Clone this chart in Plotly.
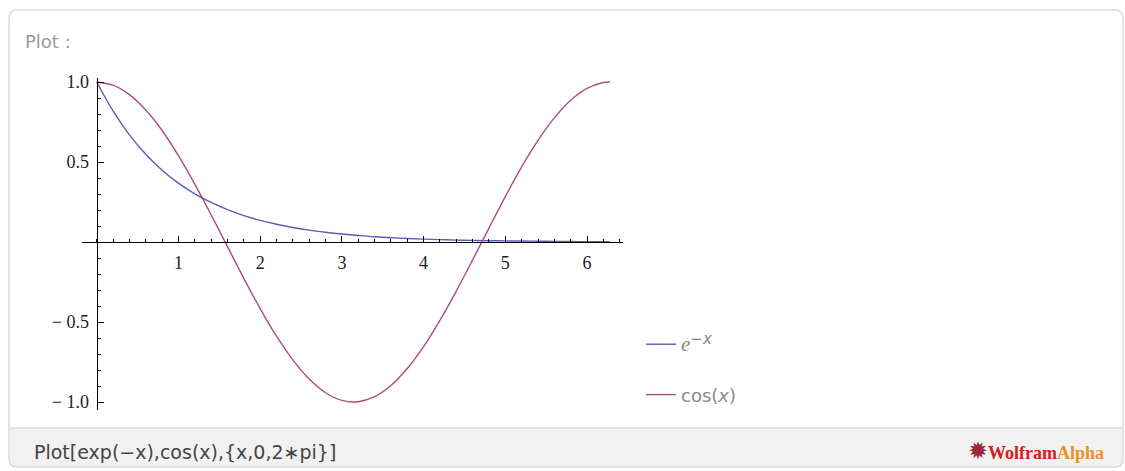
import plotly.graph_objects as go

# values
x_vals = [0.0, 0.2, 0.4, 0.6, 0.8, 1.0, 1.2, 1.4, 1.6, 1.8, 2.0, 2.2, 2.4, 2.6, 2.8, 3.0,
          3.2, 3.4, 3.6, 3.8, 4.0, 4.2, 4.4, 4.6, 4.8, 5.0, 5.2, 5.4, 5.6, 5.8, 6.0, 6.2, 6.28]
exp_vals = [1.0, 0.819, 0.670, 0.549, 0.449, 0.368, 0.301, 0.247, 0.202, 0.165, 0.135,
            0.111, 0.091, 0.074, 0.061, 0.050, 0.041, 0.033, 0.027, 0.022, 0.018, 0.015,
            0.012, 0.010, 0.008, 0.007, 0.006, 0.005, 0.004, 0.003, 0.002, 0.002, 0.002]
cos_vals = [1.0, 0.980, 0.921, 0.825, 0.697, 0.540, 0.362, 0.170, -0.029, -0.227, -0.416,
            -0.589, -0.737, -0.857, -0.942, -0.990, -0.998, -0.967, -0.897, -0.791, -0.654,
            -0.490, -0.307, -0.112, 0.087, 0.284, 0.469, 0.635, 0.776, 0.886, 0.960, 0.997, 1.0]

x_ticks = [1, 2, 3, 4, 5, 6]
y_ticks = [-1.0, -0.5, 0.5, 1.0]
y_ticktext = ["\u2212 1.0", "\u2212 0.5", "0.5", "1.0"]
series_names = ["<span style='font-family:Liberation Serif;font-size:21px'><i>e</i></span>"
                "<sup><span style='font-size:15px'>\u2212<i>x</i></span></sup>",
                "cos(<i>x</i>)"]

W, H = 1125, 471
L, R, T, B = 82, 623, 78, 410   # plot area in pixels
X_RANGE = [-0.18, 6.44]
Y_RANGE = [-1.05, 1.025]


def px(X):
    return (X - L) / (R - L)


def py(Y):
    return (B - Y) / (B - T)


def rounded_path(x0, y0, x1, y1, r, top=True, bottom=True):
    # rounded rect in paper coords, given pixel corners
    rx = r / (R - L)
    ry = r / (B - T)
    a, b, c, d = px(x0), py(y1), px(x1), py(y0)  # left, bottom, right, top
    p = []
    if top:
        p.append(f"M{a},{d - ry} Q{a},{d} {a + rx},{d} L{c - rx},{d} Q{c},{d} {c},{d - ry}")
    else:
        p.append(f"M{a},{d} L{c},{d}")
    if bottom:
        p.append(f"L{c},{b + ry} Q{c},{b} {c - rx},{b} L{a + rx},{b} Q{a},{b} {a},{b + ry} Z")
    else:
        p.append(f"L{c},{b} L{a},{b} Z")
    return " ".join(p)


fig = go.Figure()

fig.add_trace(go.Scatter(x=x_vals, y=exp_vals, mode="lines", name=series_names[0],
                         line=dict(color="#5c5cb4", width=1.4, shape="spline"),
                         legendgroup="a"))
fig.add_trace(go.Scatter(x=x_vals, y=cos_vals, mode="lines", name=series_names[1],
                         line=dict(color="#a84d88", width=1.4, shape="spline"),
                         legendgroup="b"))

# card + footer
fig.add_shape(type="path", xref="paper", yref="paper", layer="below",
              path=rounded_path(9, 10, 1123, 467, 8),
              line=dict(color="#dadada", width=1.5), fillcolor="white")
fig.add_shape(type="path", xref="paper", yref="paper", layer="below",
              path=rounded_path(10, 428, 1122, 466, 7, top=False),
              line=dict(width=0), fillcolor="#f1f1f1")
fig.add_shape(type="line", xref="paper", yref="paper", layer="below",
              x0=px(10), x1=px(1122), y0=py(428), y1=py(428),
              line=dict(color="#dddddd", width=1.5))

fig.add_annotation(text="Plot :", xref="paper", yref="paper", x=px(23), y=py(42),
                   xanchor="left", yanchor="middle", showarrow=False,
                   font=dict(family="DejaVu Sans", size=18, color="#9a9a9a"))
fig.add_annotation(text="Plot[exp(\u2212x),cos(x),{x,0,2\u2217pi}]", xref="paper", yref="paper",
                   x=px(32), y=py(452), xanchor="left", yanchor="middle", showarrow=False,
                   font=dict(family="DejaVu Sans", size=19, color="#444444"))
fig.add_annotation(text="<span style='color:#a0283e;font-size:24px'>\u2739</span>"
                        "<b><span style='color:#d0211b'>Wolfram</span>"
                        "<span style='color:#f0901e'>Alpha</span></b>",
                   xref="paper", yref="paper", x=px(1106), y=py(451),
                   xanchor="right", yanchor="middle", showarrow=False,
                   font=dict(family="Liberation Serif", size=18, color="#d0211b"))

axis_font = dict(family="Liberation Serif", size=18, color="#222222")

fig.update_layout(
    width=W, height=H,
    margin=dict(l=L, r=W - R, t=T, b=H - B),
    paper_bgcolor="white",
    plot_bgcolor="rgba(0,0,0,0)",
    showlegend=True,
    legend=dict(x=px(641), y=py(326), xanchor="left", yanchor="top",
                tracegroupgap=24, itemwidth=30, bgcolor="rgba(0,0,0,0)",
                font=dict(family="DejaVu Sans", size=18, color="#8a8a8a")),
    xaxis=dict(range=X_RANGE, anchor="free",
               position=(0 - Y_RANGE[0]) / (Y_RANGE[1] - Y_RANGE[0]),
               showline=True, linecolor="black", linewidth=1.3,
               showgrid=False, zeroline=False,
               tickvals=x_ticks, ticks="inside", ticklen=6, tickwidth=1.2,
               tickcolor="black", ticklabelstandoff=4, tickfont=axis_font,
               minor=dict(ticks="inside", ticklen=3, dtick=0.2, tick0=0,
                          tickcolor="black", tickwidth=1, showgrid=False)),
    yaxis=dict(range=Y_RANGE, anchor="free",
               position=(0 - X_RANGE[0]) / (X_RANGE[1] - X_RANGE[0]),
               showline=True, linecolor="black", linewidth=1.3,
               showgrid=False, zeroline=False,
               tickvals=y_ticks, ticktext=y_ticktext, ticks="inside", ticklen=6,
               tickwidth=1.2, tickcolor="black", ticklabelstandoff=4, tickfont=axis_font,
               minor=dict(ticks="inside", ticklen=3, dtick=0.1, tick0=0,
                          tickcolor="black", tickwidth=1, showgrid=False)),
)

# page body has a default 8px margin; drop it so the figure sits at the window origin
fig.write_html("out.html", config={"displayModeBar": False},
               post_script="document.body.style.margin='0';")
